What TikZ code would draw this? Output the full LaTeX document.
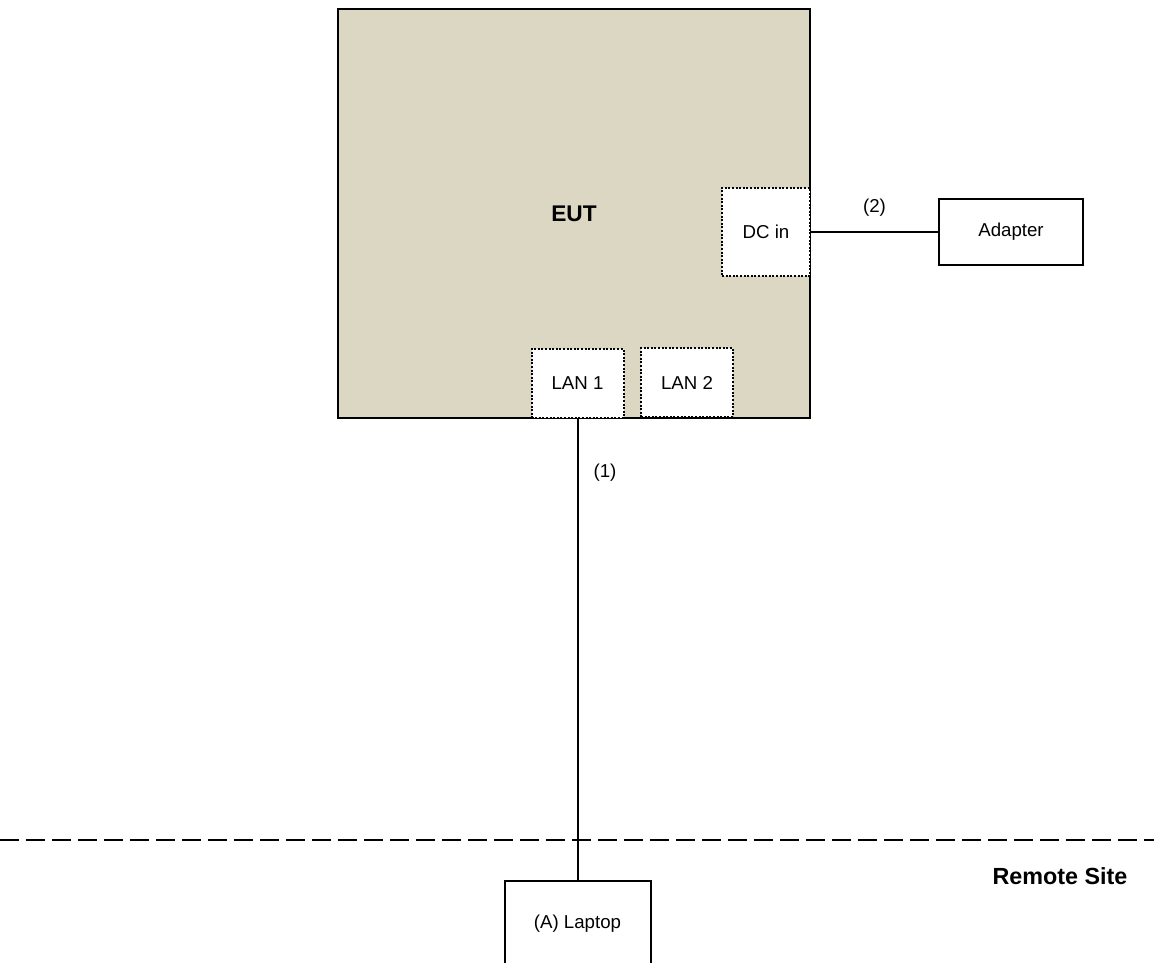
\documentclass[tikz,border=0pt]{standalone}
\usepackage{fontspec}
\setmainfont{Liberation Sans}
\definecolor{euttan}{RGB}{220,215,194}
\begin{document}
\begin{tikzpicture}[x=0.75pt,y=-0.75pt]
    \tikzset{port/.style={draw,dash pattern=on 1.5pt off 1.2pt,line width=1.5pt,fill=white,font=\fontsize{14}{16}\selectfont,inner sep=0pt},
             unit/.style={draw,line width=1.5pt,fill=white,font=\fontsize{14}{16}\selectfont,inner sep=0pt},
             wire/.style={line width=1.5pt}};
    \useasboundingbox (0,0) rectangle (1154,963);
    \node[draw,line width=1.8pt,fill=euttan,minimum width=354pt,minimum height=306.75pt,font=\bfseries\fontsize{17}{20}\selectfont] (eut) at (574,213.5) {EUT};
    \node[port,minimum width=66pt,minimum height=66pt] (dcin) at (766,232) {DC in};
    \node[port,minimum width=69pt,minimum height=51.75pt] (lan1) at (577.5,383.5) {LAN 1};
    \node[port,minimum width=69pt,minimum height=51.75pt] (lan2) at (687,382.5) {LAN 2};
    \node[unit,minimum width=108pt,minimum height=49.5pt] (adapter) at (1011,232) {Adapter};
    \node[unit,minimum width=109.5pt,minimum height=64.5pt] (laptop) at (577.5,924) {(A) Laptop};
    \draw[wire] (dcin.east) -- (adapter.west) node[midway,above=8pt,font=\fontsize{14}{16}\selectfont] (lbltwo) {(2)};
    \draw[wire] (lan1.south) -- (laptop.north);
    \node[font=\fontsize{14}{16}\selectfont] (lblone) at (605,473) {(1)};
    \draw[line width=1.5pt,dash pattern=on 14.25pt off 5.25pt] (0,840) -- (1154,840);
    \node[font=\bfseries\fontsize{17.5}{20}\selectfont] (remote) at (1060,876) {Remote Site};
\end{tikzpicture}
\end{document}
